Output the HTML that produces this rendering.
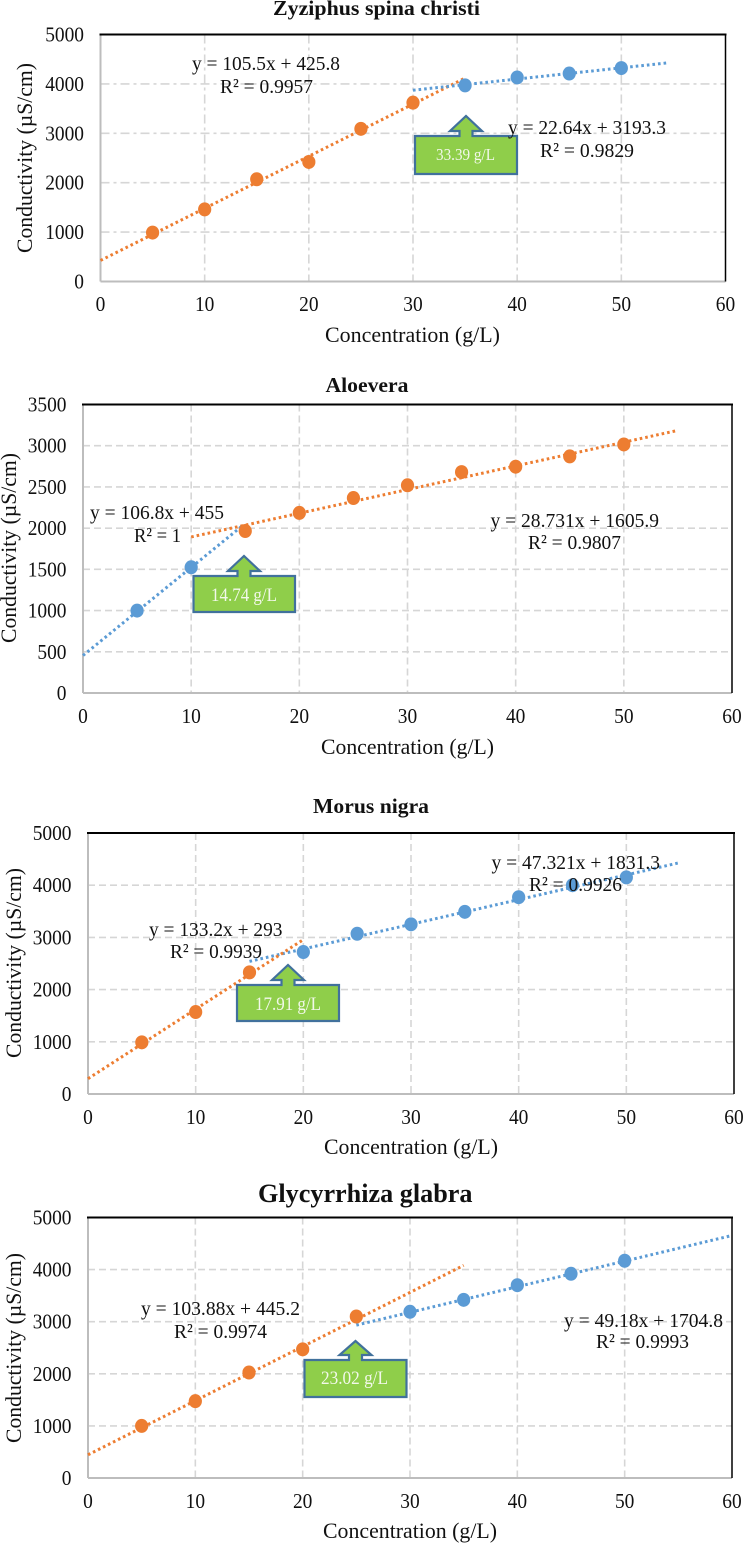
<!DOCTYPE html>
<html lang="en">
<head>
<meta charset="utf-8">
<title>Conductivity vs Concentration</title>
<style>
html,body{margin:0;padding:0;background:#fff;width:744px;height:1543px;overflow:hidden}
svg{display:block;filter:blur(.35px)}
text{font-family:"Liberation Serif",serif;fill:#111}
.title{font-weight:bold;font-size:21px}
.axis-title{font-size:22px}
.eq{font-size:20.5px}
.tick{font-size:21px}
.box{fill:#8fce4a;stroke:#41719c;stroke-width:2.2}
.box-label{fill:#f2f8ea;font-size:17px}
</style>
</head>
<body>
<svg id="figure" xmlns="http://www.w3.org/2000/svg" width="744" height="1543" viewBox="0 0 744 1543">
  <g id="panel-1"></g>
  <g id="panel-2"></g>
  <g id="panel-3"></g>
  <g id="panel-4"></g>

  <!-- Zyziphus annotations -->
  <text class="title" x="273" y="15" textLength="207" lengthAdjust="spacingAndGlyphs">Zyziphus spina christi</text>
  <text class="axis-title" x="325" y="342" textLength="175" lengthAdjust="spacingAndGlyphs">Concentration (g/L)</text>
  <text class="axis-title" transform="translate(32 253) rotate(-90)" textLength="190" lengthAdjust="spacingAndGlyphs">Conductivity (µS/cm)</text>
  <text class="eq" x="192" y="70" textLength="148" lengthAdjust="spacingAndGlyphs">y = 105.5x + 425.8</text>
  <text class="eq" x="220" y="93" textLength="93" lengthAdjust="spacingAndGlyphs">R² = 0.9957</text>
  <polygon class="box" points="415,136 459.5,136 459.5,131 450,131 466,116 482,131 472.5,131 472.5,136 517,136 517,174 415,174"/>
  <text class="box-label" x="436" y="160" textLength="59" lengthAdjust="spacingAndGlyphs">33.39 g/L</text>
  <text class="eq" x="508" y="134" textLength="158" lengthAdjust="spacingAndGlyphs">y = 22.64x + 3193.3</text>
  <text class="eq" x="540" y="157" textLength="94" lengthAdjust="spacingAndGlyphs">R² = 0.9829</text>

  <!-- Aloevera annotations -->
  <text class="title" x="325.5" y="392" textLength="83" lengthAdjust="spacingAndGlyphs">Aloevera</text>
  <text class="axis-title" x="321" y="754" textLength="173" lengthAdjust="spacingAndGlyphs">Concentration (g/L)</text>
  <text class="axis-title" transform="translate(16 643) rotate(-90)" textLength="190" lengthAdjust="spacingAndGlyphs">Conductivity (µS/cm)</text>
  <text class="eq" x="90" y="519" textLength="134" lengthAdjust="spacingAndGlyphs">y = 106.8x + 455</text>
  <text class="eq" x="134" y="542" textLength="47" lengthAdjust="spacingAndGlyphs">R² = 1</text>
  <text class="eq" x="490.5" y="527" textLength="168.5" lengthAdjust="spacingAndGlyphs">y = 28.731x + 1605.9</text>
  <text class="eq" x="528" y="549" textLength="93" lengthAdjust="spacingAndGlyphs">R² = 0.9807</text>
  <polygon class="box" points="193.5,576 237.5,576 237.5,571 228,571 244,556 260,571 250.5,571 250.5,576 295,576 295,612 193.5,612"/>
  <text class="box-label" x="211" y="601" textLength="66" lengthAdjust="spacingAndGlyphs" style="font-size:19px">14.74 g/L</text>

  <!-- Morus annotations -->
  <text class="title" x="313" y="813" textLength="116" lengthAdjust="spacingAndGlyphs">Morus nigra</text>
  <text class="axis-title" x="324" y="1154" textLength="174" lengthAdjust="spacingAndGlyphs">Concentration (g/L)</text>
  <text class="axis-title" transform="translate(21 1058) rotate(-90)" textLength="190" lengthAdjust="spacingAndGlyphs">Conductivity (µS/cm)</text>
  <text class="eq" x="149" y="936" textLength="133.5" lengthAdjust="spacingAndGlyphs">y = 133.2x + 293</text>
  <text class="eq" x="170" y="958" textLength="92" lengthAdjust="spacingAndGlyphs">R² = 0.9939</text>
  <text class="eq" x="491.5" y="869" textLength="168.5" lengthAdjust="spacingAndGlyphs">y = 47.321x + 1831.3</text>
  <text class="eq" x="529" y="891" textLength="93" lengthAdjust="spacingAndGlyphs">R² = 0.9926</text>
  <polygon class="box" points="237,985 281.5,985 281.5,980 272,980 288,965 304,980 294.5,980 294.5,985 339,985 339,1021 237,1021"/>
  <text class="box-label" x="255" y="1010" textLength="66" lengthAdjust="spacingAndGlyphs" style="font-size:19px">17.91 g/L</text>

  <!-- Glycyrrhiza annotations -->
  <text class="title" x="258" y="1202" textLength="214.5" lengthAdjust="spacingAndGlyphs" style="font-size:26px">Glycyrrhiza glabra</text>
  <text class="axis-title" x="323" y="1538" textLength="174" lengthAdjust="spacingAndGlyphs">Concentration (g/L)</text>
  <text class="axis-title" transform="translate(21 1443) rotate(-90)" textLength="190" lengthAdjust="spacingAndGlyphs">Conductivity (µS/cm)</text>
  <text class="eq" x="141" y="1315" textLength="159" lengthAdjust="spacingAndGlyphs">y = 103.88x + 445.2</text>
  <text class="eq" x="174" y="1338" textLength="93" lengthAdjust="spacingAndGlyphs">R² = 0.9974</text>
  <text class="eq" x="564" y="1327" textLength="159" lengthAdjust="spacingAndGlyphs">y = 49.18x + 1704.8</text>
  <text class="eq" x="596" y="1348" textLength="93" lengthAdjust="spacingAndGlyphs">R² = 0.9993</text>
  <polygon class="box" points="304.5,1360 349,1360 349,1355 339.5,1355 355.5,1341 371.5,1355 362,1355 362,1360 406.5,1360 406.5,1397 304.5,1397"/>
  <text class="box-label" x="321" y="1384" textLength="67" lengthAdjust="spacingAndGlyphs" style="font-size:19px">23.02 g/L</text>
</svg>

<script>
// ---- Shared tick labels ----
const xTicks = [0, 10, 20, 30, 40, 50, 60];
const yTicks5000 = [0, 1000, 2000, 3000, 4000, 5000];
const yTicks3500 = [0, 500, 1000, 1500, 2000, 2500, 3000, 3500];

// ---- Zyziphus spina christi ----
const zyziphusOrangeX = [5, 10, 15, 20, 25, 30];
const zyziphusOrangeY = [990, 1460, 2070, 2420, 3090, 3620];
const zyziphusBlueX = [35, 40, 45, 50];
const zyziphusBlueY = [3970, 4130, 4210, 4320];
const zyziphusOrangeTrendX = [0, 35];
const zyziphusOrangeTrendY = [426, 4118];
const zyziphusBlueTrendX = [30, 54.5];
const zyziphusBlueTrendY = [3872, 4427];

// ---- Aloevera ----
const aloeBlueX = [5, 10];
const aloeBlueY = [1000, 1525];
const aloeOrangeX = [15, 20, 25, 30, 35, 40, 45, 50];
const aloeOrangeY = [1965, 2185, 2365, 2520, 2680, 2745, 2870, 3015];
const aloeBlueTrendX = [0, 14.7];
const aloeBlueTrendY = [455, 2025];
const aloeOrangeTrendX = [10, 55];
const aloeOrangeTrendY = [1893, 3186];

// ---- Morus nigra ----
const morusOrangeX = [5, 10, 15];
const morusOrangeY = [990, 1570, 2330];
const morusBlueX = [20, 25, 30, 35, 40, 45, 50];
const morusBlueY = [2720, 3070, 3250, 3490, 3770, 4000, 4150];
const morusOrangeTrendX = [0, 20];
const morusOrangeTrendY = [293, 2957];
const morusBlueTrendX = [15, 55];
const morusBlueTrendY = [2541, 4434];

// ---- Glycyrrhiza glabra ----
const glycyOrangeX = [5, 10, 15, 20, 25];
const glycyOrangeY = [1000, 1475, 2025, 2470, 3100];
const glycyBlueX = [30, 35, 40, 45, 50];
const glycyBlueY = [3190, 3420, 3700, 3920, 4170];
const glycyOrangeTrendX = [0, 35];
const glycyOrangeTrendY = [445, 4081];
const glycyBlueTrendX = [25, 60];
const glycyBlueTrendY = [2934, 4655];

const ORANGE = '#ed7d31';
const BLUE = '#5b9bd5';
const NS = 'http://www.w3.org/2000/svg';

function make(parent, tag, props) {
  const el = document.createElementNS(NS, tag);
  for (const k in props) el.setAttribute(k, props[k]);
  parent.appendChild(el);
  return el;
}

function drawChart(cfg) {
  const g = document.getElementById(cfg.id);
  const xMax = xTicks[xTicks.length - 1];
  const yMax = cfg.yTicks[cfg.yTicks.length - 1];
  const xScale = v => cfg.left + (v / xMax) * (cfg.right - cfg.left);
  const yScale = v => cfg.bottom - (v / yMax) * (cfg.bottom - cfg.top);

  // gridlines
  xTicks.slice(1, -1).forEach(t => {
    const el = make(g, 'line', {x1: xScale(t), x2: xScale(t), y1: cfg.top, y2: cfg.bottom, stroke: '#d6d6d6', 'stroke-width': 1.6, 'stroke-dasharray': cfg.dash});
    
    
  });
  cfg.yTicks.slice(1, -1).forEach(t => {
    const el = make(g, 'line', {x1: cfg.left, x2: cfg.right, y1: yScale(t), y2: yScale(t), stroke: '#d6d6d6', 'stroke-width': 1.6, 'stroke-dasharray': cfg.dash});
    
    
  });

  // frame
  const leftAxis = make(g, 'line', {x1: cfg.left, x2: cfg.left, y1: cfg.top, y2: cfg.bottom, stroke: '#bdbdbd', 'stroke-width': 2});
  
  
  const bottomAxis = make(g, 'line', {x1: cfg.left, x2: cfg.right, y1: cfg.bottom, y2: cfg.bottom, stroke: '#bdbdbd', 'stroke-width': 2});
  
  
  const topEdge = make(g, 'line', {x1: cfg.left - 1, x2: cfg.right + 1, y1: cfg.top, y2: cfg.top, stroke: '#000', 'stroke-width': 2});
  
  
  const rightEdge = make(g, 'line', {x1: cfg.right, x2: cfg.right, y1: cfg.top, y2: cfg.bottom, stroke: '#000', 'stroke-width': 1.5});
  
  

  // tick labels (digits are tall and narrow in the reference)
  const digitWidth = 9.7;
  xTicks.forEach(t => {
    const el = make(g, 'text', {class: 'tick', x: xScale(t), y: cfg.xLabelY, 'text-anchor': 'middle', textLength: String(t).length * digitWidth, lengthAdjust: 'spacingAndGlyphs'});
    el.textContent = t;
    
    
  });
  cfg.yTicks.forEach(t => {
    const el = make(g, 'text', {class: 'tick', x: cfg.left - 16.5, y: yScale(t) + 7, 'text-anchor': 'end', textLength: String(t).length * digitWidth, lengthAdjust: 'spacingAndGlyphs'});
    el.textContent = t;
    
    
  });

  // trendlines
  cfg.trends.forEach(tr => {
    const pts = tr.xs.map((v, i) => xScale(v) + ',' + yScale(tr.ys[i])).join(' ');
    const el = make(g, 'polyline', {points: pts, fill: 'none', stroke: tr.color, 'stroke-width': 3, 'stroke-dasharray': '2.6 3'});
    
    
  });

  // points
  cfg.series.forEach(s => {
    s.xs.forEach((v, i) => {
      const el = make(g, 'ellipse', {cx: xScale(v), cy: yScale(s.ys[i]), rx: 6.6, ry: 7, fill: s.color});
      
      
    });
  });
}

drawChart({id: 'panel-1', left: 100.5, right: 725.5, top: 34.5, bottom: 281.5, dash: '9 4 3 4', yTicks: yTicks5000, xLabelY: 311,
  trends: [
    {xs: zyziphusOrangeTrendX, ys: zyziphusOrangeTrendY, color: ORANGE, name: 'orange-trendline'},
    {xs: zyziphusBlueTrendX, ys: zyziphusBlueTrendY, color: BLUE, name: 'blue-trendline'}],
  series: [
    {xs: zyziphusOrangeX, ys: zyziphusOrangeY, color: ORANGE, name: 'orange-point'},
    {xs: zyziphusBlueX, ys: zyziphusBlueY, color: BLUE, name: 'blue-point'}]});

drawChart({id: 'panel-2', left: 83, right: 732, top: 404.5, bottom: 693, dash: '7 4', yTicks: yTicks3500, xLabelY: 723,
  trends: [
    {xs: aloeBlueTrendX, ys: aloeBlueTrendY, color: BLUE, name: 'blue-trendline'},
    {xs: aloeOrangeTrendX, ys: aloeOrangeTrendY, color: ORANGE, name: 'orange-trendline'}],
  series: [
    {xs: aloeBlueX, ys: aloeBlueY, color: BLUE, name: 'blue-point'},
    {xs: aloeOrangeX, ys: aloeOrangeY, color: ORANGE, name: 'orange-point'}]});

drawChart({id: 'panel-3', left: 88, right: 734, top: 833, bottom: 1094, dash: '7 4', yTicks: yTicks5000, xLabelY: 1124,
  trends: [
    {xs: morusBlueTrendX, ys: morusBlueTrendY, color: BLUE, name: 'blue-trendline'},
    {xs: morusOrangeTrendX, ys: morusOrangeTrendY, color: ORANGE, name: 'orange-trendline'}],
  series: [
    {xs: morusOrangeX, ys: morusOrangeY, color: ORANGE, name: 'orange-point'},
    {xs: morusBlueX, ys: morusBlueY, color: BLUE, name: 'blue-point'}]});

drawChart({id: 'panel-4', left: 88, right: 732, top: 1217.5, bottom: 1478, dash: '7 4', yTicks: yTicks5000, xLabelY: 1508,
  trends: [
    {xs: glycyOrangeTrendX, ys: glycyOrangeTrendY, color: ORANGE, name: 'orange-trendline'},
    {xs: glycyBlueTrendX, ys: glycyBlueTrendY, color: BLUE, name: 'blue-trendline'}],
  series: [
    {xs: glycyOrangeX, ys: glycyOrangeY, color: ORANGE, name: 'orange-point'},
    {xs: glycyBlueX, ys: glycyBlueY, color: BLUE, name: 'blue-point'}]});
</script>
</body>
</html>
